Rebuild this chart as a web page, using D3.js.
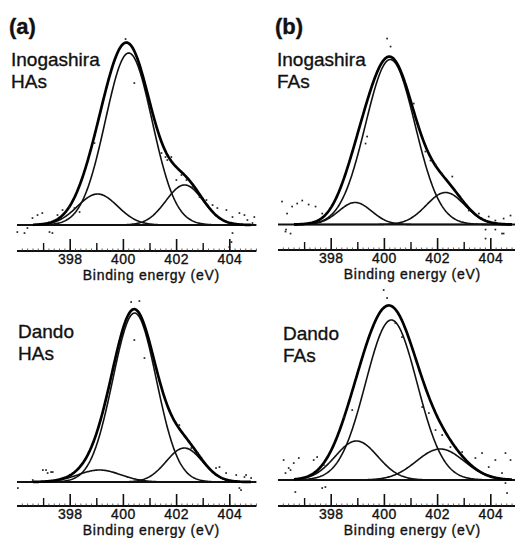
<!DOCTYPE html>
<html>
<head>
<meta charset="utf-8">
<script src="https://cdn.jsdelivr.net/npm/d3@7"></script>
<style>
  body { margin: 0; background: #fff; }
  svg { display: block; }
  text { font-family: "Liberation Sans", Arial, sans-serif; fill: #111; stroke: #111; stroke-width: 0.35px; }
</style>
</head>
<body>
<svg></svg>
<script>
// axis values
const energyDomain = [396, 405];
const majorTicks = [398, 400, 402, 404];
const minorTicks = [397, 399, 401, 403];
const axisTitle = 'Binding energy (eV)';

const panelLetters = ['(a)', '(b)'];
const sampleNames = ['Inogashira', 'Inogashira', 'Dando', 'Dando'];
const fractionNames = ['HAs', 'FAs', 'HAs', 'FAs'];

// fitted N 1s components: [centre (eV), height, FWHM (eV)]
const inoHAsPeaks = [[399.03, 31, 1.77], [400.2, 172, 2.07], [402.3, 40, 1.65]];
const inoFAsPeaks = [[398.9, 22, 1.46], [400.22, 165, 2.19], [402.3, 32, 1.7]];
const danHAsPeaks = [[399.1, 12, 1.88], [400.42, 169, 1.93], [402.29, 34, 1.6]];
const danFAsPeaks = [[398.95, 39, 1.88], [400.26, 160, 2.28], [402.1, 31, 2.12]];

// measured points that stand off the fitted envelope: [eV, intensity]
const inoHAsDots = [
  [396.01, -7], [396.28, -8], [396.39, -3], [396.58, 7], [396.77, 10], [396.95, 12],
  [397.22, -7], [397.33, -8], [397.52, 10], [397.71, 15], [397.97, 18], [398.16, 17],
  [398.35, 13], [398.91, 82], [400.08, 186], [400.41, 142], [401.43, 72], [401.58, 68],
  [401.65, 65], [401.8, 68], [401.99, 45], [402.18, 50], [402.37, 45], [402.59, 38],
  [402.86, 28], [403.12, 25], [403.35, 20], [403.53, 17], [403.87, 15], [404.1, 8],
  [404.36, 12], [404.55, 10], [404.66, 5], [404.85, 2], [404.92, 8], [404.06, -17],
  [404.1, -8], [403.98, -22]
];
const inoFAsDots = [
  [396.15, 23], [396.34, 11], [396.53, 18], [396.72, 21], [396.91, 24], [397.15, 20],
  [397.41, 18], [397.66, 11], [396.3, -5], [396.47, -9], [396.28, -7], [399.29, 81],
  [399.35, 88], [400.1, 186], [400.23, 178], [401.1, 121], [401.29, 98], [401.54, 73],
  [401.73, 64], [401.92, 60], [402.17, 51], [402.55, 48], [402.92, 24], [403.17, 14],
  [403.55, 11], [403.92, 8], [404.17, 4], [404.48, 6], [404.74, 9], [404.17, -5],
  [404.48, -9], [403.8, -5], [403.8, -14], [404.42, -9]
];
const danHAsDots = [
  [396.09, 0], [396.59, 2], [396.97, 12], [397.15, 9], [397.34, 10], [397.09, 12],
  [397.28, 10], [396.03, -6], [400.29, 180], [400.6, 181], [400.41, 142], [400.79, 124],
  [402.1, 57], [402.55, 34], [402.8, 29], [403.48, 14], [403.61, 15], [403.86, 9],
  [404.24, 7], [404.55, 5], [404.61, 7], [404.8, 4], [404.42, -8], [404.36, -6]
];
const danFAsDots = [
  [396.21, 20], [396.4, 12], [396.59, 17], [396.78, 22], [397.34, 20], [397.47, 23],
  [397.72, 15], [397.78, -7], [398.47, 63], [398.79, 70], [399.97, 190], [400.1, 182],
  [400.41, 157], [400.66, 143], [401.42, 73], [401.67, 67], [401.92, 50], [402.17, 45],
  [402.48, 33], [402.92, 28], [403.42, 22], [403.67, 27], [403.92, 13], [404.17, 20],
  [404.55, 27], [404.74, 20], [404.42, 7], [396.28, 7], [396.47, 10], [396.65, -12],
  [397.66, -8], [404.55, -3], [404.61, -13]
];

const width = 515;
const height = 538;
const svg = d3.select('svg').attr('width', width).attr('height', height);

// where each panel sits on the page
const panels = [
  { peaks: inoHAsPeaks, dots: inoHAsDots, left: 17, base: 225, axis: 251, lx: 11, ly: 66, letter: 0 },
  { peaks: inoFAsPeaks, dots: inoFAsDots, left: 278, base: 224.5, axis: 250, lx: 277, ly: 66, letter: 1 },
  { peaks: danHAsPeaks, dots: danHAsDots, left: 17, base: 482, axis: 506, lx: 18, ly: 338 },
  { peaks: danFAsPeaks, dots: danFAsDots, left: 278, base: 480, axis: 506, lx: 283, ly: 340 }
];

const pxPerEv = 26.6;
const ln2x4 = 4 * Math.LN2;

function component(p, e) {
  const d = e - p[0];
  return p[1] * Math.exp(-ln2x4 * d * d / (p[2] * p[2]));
}

panels.forEach((panel, i) => {
  const x = d3.scaleLinear()
    .domain(energyDomain)
    .range([panel.left, panel.left + pxPerEv * (energyDomain[1] - energyDomain[0])]);
  const y = d3.scaleLinear().domain([0, 180]).range([panel.base, panel.base - 180]);

  const g = svg.append('g');
  const energies = d3.range(energyDomain[0] + 0.6, energyDomain[1] - 0.2, 0.03);
  const line = d3.line().x(d => x(d[0])).y(d => y(d[1]));

  // zero line
  g.append('line')
    .attr('x1', x(energyDomain[0])).attr('x2', x(energyDomain[1]))
    .attr('y1', y(0)).attr('y2', y(0))
    .attr('stroke', '#111').attr('stroke-width', 1.8);

  // components
  panel.peaks.forEach(p => {
    g.append('path')
      .datum(energies.map(e => [e, component(p, e)]))
      .attr('d', line)
      .attr('fill', 'none')
      .attr('stroke', '#111')
      .attr('stroke-width', 1.6);
  });

  // envelope
  g.append('path')
    .datum(energies.map(e => [e, d3.sum(panel.peaks, p => component(p, e))]))
    .attr('d', line)
    .attr('fill', 'none')
    .attr('stroke', '#000')
    .attr('stroke-width', 2.7)
    .attr('stroke-linejoin', 'round');

  // raw data points
  g.append('g')
    .selectAll('rect')
    .data(panel.dots)
    .enter().append('rect')
    .attr('x', d => x(d[0]) - 0.8)
    .attr('y', d => y(d[1]) - 0.8)
    .attr('width', 1.7)
    .attr('height', 1.7)
    .attr('fill', '#222');

  // energy axis: ruler style with ticks pointing up
  const ax = g.append('g');
  ax.append('line')
    .attr('x1', x(energyDomain[0])).attr('x2', x(energyDomain[1]))
    .attr('y1', panel.axis).attr('y2', panel.axis)
    .attr('stroke', '#111').attr('stroke-width', 2);

  ax.selectAll('.micro')
    .data(d3.range(energyDomain[0] + 0.2, energyDomain[1], 0.2))
    .enter().append('line')
    .attr('x1', d => x(d)).attr('x2', d => x(d))
    .attr('y1', panel.axis).attr('y2', panel.axis - 2.5)
    .attr('stroke', '#333').attr('stroke-width', 0.8);

  ax.selectAll('.minor')
    .data(minorTicks)
    .enter().append('line')
    .attr('x1', d => x(d)).attr('x2', d => x(d))
    .attr('y1', panel.axis).attr('y2', panel.axis - 8)
    .attr('stroke', '#111').attr('stroke-width', 1.4);

  ax.selectAll('.major')
    .data(majorTicks)
    .enter().append('line')
    .attr('x1', d => x(d)).attr('x2', d => x(d))
    .attr('y1', panel.axis).attr('y2', panel.axis - 12)
    .attr('stroke', '#111').attr('stroke-width', 1.6);

  ax.selectAll('.tlabel')
    .data(majorTicks)
    .enter().append('text')
    .attr('x', d => x(d))
    .attr('y', panel.axis + 13)
    .attr('text-anchor', 'middle')
    .attr('font-size', 14)
    .attr('letter-spacing', 0.4)
    .text(d => d);

  ax.append('text')
    .attr('x', x(401.05))
    .attr('y', panel.axis + 29)
    .attr('text-anchor', 'middle')
    .attr('font-size', 14)
    .attr('letter-spacing', 0.7)
    .text(axisTitle);

  // sample labels
  if (panel.letter !== undefined) {
    g.append('text')
      .attr('x', panel.lx - 2)
      .attr('y', 34)
      .attr('font-size', 22)
      .attr('font-weight', 'bold')
      .text(panelLetters[panel.letter]);
  }
  g.append('text')
    .attr('x', panel.lx).attr('y', panel.ly)
    .attr('font-size', 19)
    .text(sampleNames[i]);
  g.append('text')
    .attr('x', panel.lx).attr('y', panel.ly + 22)
    .attr('font-size', 19)
    .text(fractionNames[i]);
});
</script>
</body>
</html>
